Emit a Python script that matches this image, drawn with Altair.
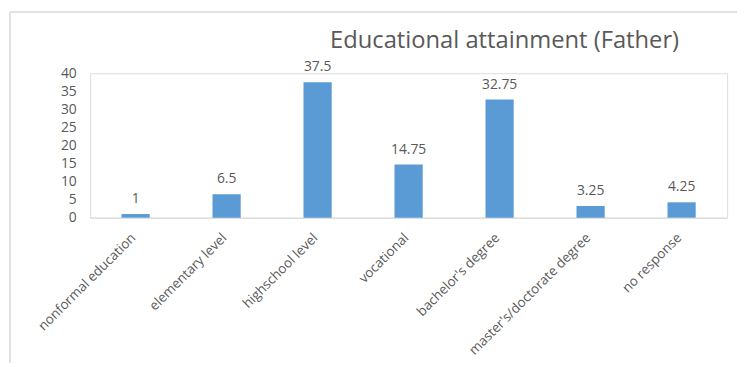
import altair as alt
import pandas as pd

categories = ["nonformal education", "elementary level", "highschool level", "vocational",
              "bachelor's degree", "master's/doctorate degree", "no response"]
values = [1, 6.5, 37.5, 14.75, 32.75, 3.25, 4.25]
labels = ["1", "6.5", "37.5", "14.75", "32.75", "3.25", "4.25"]
title_text = "Educational attainment (Father)"
y_ticks = [0, 5, 10, 15, 20, 25, 30, 35, 40]

df = pd.DataFrame({"cat": categories, "val": values, "lab": labels})

FONT = "Open Sans"
GREY = "#595959"

x = alt.X("cat:N", sort=categories, title=None,
          scale=alt.Scale(paddingInner=0.69, paddingOuter=0.345),
          axis=alt.Axis(labelAngle=-45, labelFontSize=13.5, labelColor=GREY, labelFont=FONT,
                        ticks=False, domainColor="#D9D9D9", domainWidth=1, labelPadding=13,
                        labelOffset=-7, labelLimit=300))
y = alt.Y("val:Q", title=None, scale=alt.Scale(domain=[0, 40], nice=False),
          axis=alt.Axis(values=y_ticks, grid=False, domain=False, ticks=False,
                        labelFontSize=14, labelColor=GREY, labelFont=FONT, labelPadding=14))

base = alt.Chart(df)
bars = base.mark_bar(color="#5B9BD5").encode(x=x, y=y)
text = base.mark_text(dy=-15, fontSize=14, color=GREY, font=FONT).encode(x=x, y=y, text="lab:N")

title = alt.Chart(pd.DataFrame({"t": [title_text]})).mark_text(
    fontSize=24, color=GREY, font=FONT, align="center", baseline="middle"
).encode(x=alt.value(419), y=alt.value(-33), text="t:N")

frame_left = alt.Chart(pd.DataFrame({"a": [0]})).mark_rule(color="#D9D9D9", strokeWidth=1.5).encode(
    x=alt.value(-81), y=alt.value(-62), y2=alt.value(300))
frame_top = alt.Chart(pd.DataFrame({"a": [0]})).mark_rule(color="#D9D9D9", strokeWidth=1.5).encode(
    x=alt.value(-81), x2=alt.value(660), y=alt.value(-62))

chart = alt.layer(frame_left, frame_top, bars, text, title).properties(
    width=644, height=146,
    autosize=alt.AutoSizeParams(type="none"),
    padding={"left": 83, "top": 64, "right": 10, "bottom": 145},
).configure_view(stroke=None).configure(background="white")

chart.save("out.html", embed_options={"renderer": "svg", "actions": False})
